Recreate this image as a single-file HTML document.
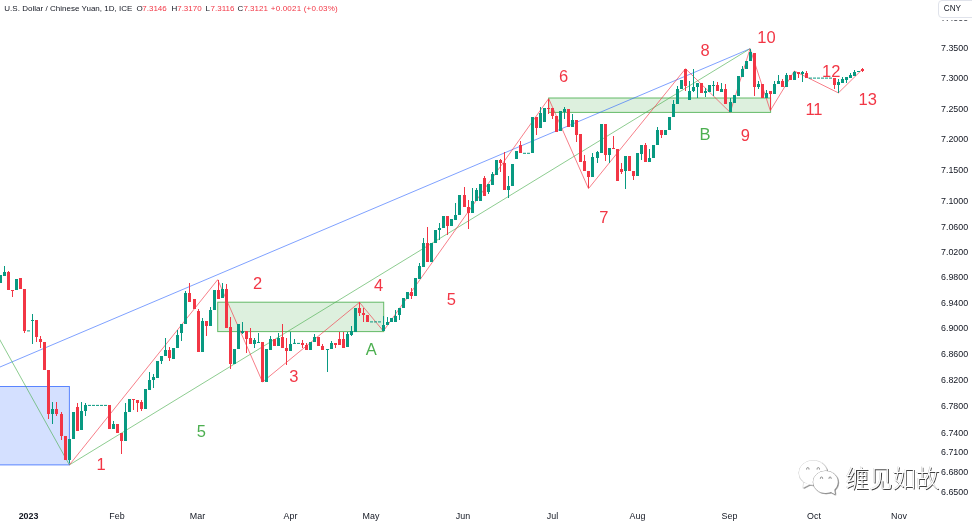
<!DOCTYPE html>
<html><head><meta charset="utf-8"><title>USDCNY</title>
<style>
html,body{margin:0;padding:0;background:#fff;}
body{width:972px;height:522px;overflow:hidden;position:relative;font-family:"Liberation Sans","Noto Sans CJK SC",sans-serif;}
#chart{position:absolute;left:0;top:0;width:972px;height:522px;display:block;}
#legend{position:absolute;left:0;top:3.4px;font-size:8px;line-height:11px;color:#131722;white-space:nowrap;}
#legend span{position:absolute;top:0;}
#legend .v{color:#f23645;}
#cnyw{position:absolute;left:936px;top:0;width:36px;height:20px;background:#fff;}
#cny{position:absolute;left:938px;top:-0.5px;width:40px;height:18px;border:1px solid #e0e3eb;border-radius:4px;background:#fff;box-sizing:border-box;font-size:8.2px;line-height:16.6px;color:#131722;padding-left:4.8px;}
#wm{position:absolute;left:845.6px;top:461.3px;font-size:23.45px;line-height:32px;color:#fff;text-shadow:0.9px 0.9px 0.5px rgba(30,30,30,0.85),-0.3px -0.3px 0.4px rgba(120,120,120,0.5);font-family:"Noto Sans CJK SC","Liberation Sans",sans-serif;white-space:nowrap;font-weight:300;}
</style></head><body>
<svg id="chart" width="972" height="522" viewBox="0 0 972 522" font-family="Liberation Sans, sans-serif">
<!-- boxes -->
<rect x="-5" y="386.5" width="74.4" height="78.4" fill="#2962ff" fill-opacity="0.2" stroke="#2962ff" stroke-opacity="0.75" stroke-width="1"/>
<rect x="217.7" y="302.2" width="166" height="29.4" fill="#4caf50" fill-opacity="0.19" stroke="#4caf50" stroke-opacity="0.85" stroke-width="1"/>
<rect x="548.7" y="98" width="221.9" height="14.4" fill="#4caf50" fill-opacity="0.19" stroke="#4caf50" stroke-opacity="0.85" stroke-width="1"/>
<!-- trend lines -->
<g fill="none" stroke-width="0.8">
<line x1="0" y1="367" x2="750.1" y2="48.7" stroke="#2962ff" stroke-opacity="0.75"/>
<line x1="69.4" y1="464.9" x2="750.1" y2="48.7" stroke="#4caf50" stroke-opacity="0.8"/>
<line x1="-2" y1="336.5" x2="69.4" y2="464.9" stroke="#4caf50" stroke-opacity="0.8"/>
<polyline points="69.4,464.9 217.7,279.7 262.5,382 359.5,302.4 383.4,331.1 548.7,98.6 588.5,188.6 685.5,68.7 730.2,112.4 750.1,48.7 770.3,110.6 794.3,71 838.4,92.9 862.5,69.2" stroke="#f23645" stroke-opacity="0.8"/>
</g>
<!-- candles -->
<g shape-rendering="crispEdges">
<rect x="-1" y="275" width="3" height="8" fill="#089981"/>
<rect x="4" y="266" width="1" height="10" fill="#089981"/>
<rect x="3" y="272" width="3" height="4" fill="#089981"/>
<rect x="8" y="271" width="1" height="19" fill="#f23645"/>
<rect x="7" y="272" width="3" height="18" fill="#f23645"/>
<rect x="12" y="290" width="1" height="7" fill="#f23645"/>
<rect x="11" y="290" width="3" height="1" fill="#f23645"/>
<rect x="15" y="279" width="3" height="11" fill="#089981"/>
<rect x="19" y="278" width="3" height="11" fill="#f23645"/>
<rect x="24" y="289" width="1" height="44" fill="#f23645"/>
<rect x="23" y="289" width="3" height="42" fill="#f23645"/>
<rect x="32" y="314" width="1" height="30" fill="#089981"/>
<rect x="31" y="320" width="3" height="1" fill="#089981"/>
<rect x="36" y="320" width="1" height="22" fill="#f23645"/>
<rect x="35" y="320" width="3" height="17" fill="#f23645"/>
<rect x="40" y="336" width="1" height="12" fill="#f23645"/>
<rect x="39" y="339" width="3" height="3" fill="#f23645"/>
<rect x="43" y="342" width="3" height="28" fill="#f23645"/>
<rect x="48" y="370" width="1" height="49" fill="#f23645"/>
<rect x="47" y="370" width="3" height="44" fill="#f23645"/>
<rect x="52" y="402" width="1" height="22" fill="#089981"/>
<rect x="51" y="409" width="3" height="5" fill="#089981"/>
<rect x="56" y="402" width="1" height="14" fill="#f23645"/>
<rect x="55" y="409" width="3" height="5" fill="#f23645"/>
<rect x="61" y="412" width="1" height="28" fill="#f23645"/>
<rect x="60" y="414" width="3" height="22" fill="#f23645"/>
<rect x="64" y="436" width="3" height="24" fill="#f23645"/>
<rect x="69" y="439" width="1" height="24" fill="#089981"/>
<rect x="68" y="439" width="3" height="21" fill="#089981"/>
<rect x="72" y="412" width="3" height="27" fill="#089981"/>
<rect x="77" y="403" width="1" height="28" fill="#f23645"/>
<rect x="76" y="407" width="3" height="24" fill="#f23645"/>
<rect x="81" y="402" width="1" height="28" fill="#089981"/>
<rect x="80" y="411" width="3" height="19" fill="#089981"/>
<rect x="85" y="403" width="1" height="13" fill="#089981"/>
<rect x="84" y="405" width="3" height="6" fill="#089981"/>
<rect x="108" y="405" width="3" height="24" fill="#f23645"/>
<rect x="113" y="421" width="1" height="8" fill="#089981"/>
<rect x="112" y="424" width="3" height="5" fill="#089981"/>
<rect x="116" y="424" width="3" height="9" fill="#f23645"/>
<rect x="121" y="433" width="1" height="21" fill="#f23645"/>
<rect x="120" y="433" width="3" height="8" fill="#f23645"/>
<rect x="125" y="403" width="1" height="38" fill="#089981"/>
<rect x="124" y="412" width="3" height="29" fill="#089981"/>
<rect x="128" y="399" width="3" height="13" fill="#089981"/>
<rect x="133" y="399" width="1" height="11" fill="#f23645"/>
<rect x="132" y="399" width="3" height="1" fill="#f23645"/>
<rect x="137" y="400" width="1" height="12" fill="#f23645"/>
<rect x="136" y="400" width="3" height="3" fill="#f23645"/>
<rect x="141" y="400" width="1" height="11" fill="#f23645"/>
<rect x="140" y="402" width="3" height="7" fill="#f23645"/>
<rect x="144" y="389" width="3" height="20" fill="#089981"/>
<rect x="149" y="372" width="1" height="18" fill="#089981"/>
<rect x="148" y="380" width="3" height="10" fill="#089981"/>
<rect x="153" y="374" width="1" height="14" fill="#089981"/>
<rect x="152" y="377" width="3" height="3" fill="#089981"/>
<rect x="156" y="361" width="3" height="17" fill="#089981"/>
<rect x="161" y="356" width="1" height="8" fill="#089981"/>
<rect x="160" y="356" width="3" height="5" fill="#089981"/>
<rect x="165" y="338" width="1" height="18" fill="#089981"/>
<rect x="164" y="350" width="3" height="6" fill="#089981"/>
<rect x="169" y="347" width="1" height="14" fill="#f23645"/>
<rect x="168" y="350" width="3" height="8" fill="#f23645"/>
<rect x="172" y="348" width="3" height="11" fill="#089981"/>
<rect x="177" y="330" width="1" height="18" fill="#089981"/>
<rect x="176" y="335" width="3" height="13" fill="#089981"/>
<rect x="181" y="324" width="1" height="17" fill="#089981"/>
<rect x="180" y="324" width="3" height="9" fill="#089981"/>
<rect x="185" y="291" width="1" height="33" fill="#089981"/>
<rect x="184" y="293" width="3" height="31" fill="#089981"/>
<rect x="189" y="283" width="1" height="19" fill="#f23645"/>
<rect x="188" y="293" width="3" height="9" fill="#f23645"/>
<rect x="193" y="299" width="3" height="10" fill="#f23645"/>
<rect x="198" y="309" width="1" height="43" fill="#f23645"/>
<rect x="197" y="311" width="3" height="41" fill="#f23645"/>
<rect x="202" y="318" width="1" height="34" fill="#089981"/>
<rect x="201" y="321" width="3" height="31" fill="#089981"/>
<rect x="206" y="321" width="1" height="15" fill="#f23645"/>
<rect x="205" y="321" width="3" height="5" fill="#f23645"/>
<rect x="210" y="307" width="1" height="19" fill="#089981"/>
<rect x="209" y="310" width="3" height="16" fill="#089981"/>
<rect x="213" y="290" width="3" height="20" fill="#089981"/>
<rect x="218" y="280" width="1" height="19" fill="#f23645"/>
<rect x="217" y="290" width="3" height="9" fill="#f23645"/>
<rect x="222" y="283" width="1" height="15" fill="#089981"/>
<rect x="221" y="289" width="3" height="9" fill="#089981"/>
<rect x="226" y="284" width="1" height="44" fill="#f23645"/>
<rect x="225" y="289" width="3" height="39" fill="#f23645"/>
<rect x="230" y="317" width="1" height="52" fill="#f23645"/>
<rect x="229" y="327" width="3" height="37" fill="#f23645"/>
<rect x="233" y="349" width="3" height="15" fill="#089981"/>
<rect x="237" y="324" width="3" height="25" fill="#089981"/>
<rect x="242" y="322" width="1" height="12" fill="#089981"/>
<rect x="241" y="331" width="3" height="2" fill="#089981"/>
<rect x="246" y="331" width="1" height="22" fill="#f23645"/>
<rect x="245" y="331" width="3" height="8" fill="#f23645"/>
<rect x="250" y="328" width="1" height="16" fill="#f23645"/>
<rect x="249" y="338" width="3" height="6" fill="#f23645"/>
<rect x="254" y="338" width="1" height="10" fill="#089981"/>
<rect x="253" y="340" width="3" height="4" fill="#089981"/>
<rect x="258" y="333" width="1" height="10" fill="#089981"/>
<rect x="257" y="342" width="3" height="1" fill="#089981"/>
<rect x="261" y="342" width="3" height="40" fill="#f23645"/>
<rect x="265" y="349" width="3" height="33" fill="#089981"/>
<rect x="270" y="336" width="1" height="14" fill="#089981"/>
<rect x="269" y="339" width="3" height="11" fill="#089981"/>
<rect x="273" y="339" width="3" height="7" fill="#f23645"/>
<rect x="278" y="333" width="1" height="13" fill="#089981"/>
<rect x="277" y="338" width="3" height="8" fill="#089981"/>
<rect x="282" y="324" width="1" height="24" fill="#f23645"/>
<rect x="281" y="337" width="3" height="11" fill="#f23645"/>
<rect x="286" y="338" width="1" height="27" fill="#f23645"/>
<rect x="285" y="348" width="3" height="3" fill="#f23645"/>
<rect x="290" y="332" width="1" height="19" fill="#089981"/>
<rect x="289" y="344" width="3" height="7" fill="#089981"/>
<rect x="294" y="339" width="1" height="5" fill="#089981"/>
<rect x="302" y="340" width="1" height="8" fill="#f23645"/>
<rect x="301" y="343" width="3" height="2" fill="#f23645"/>
<rect x="306" y="343" width="1" height="7" fill="#f23645"/>
<rect x="305" y="345" width="3" height="5" fill="#f23645"/>
<rect x="309" y="342" width="3" height="8" fill="#089981"/>
<rect x="314" y="334" width="1" height="8" fill="#089981"/>
<rect x="313" y="337" width="3" height="5" fill="#089981"/>
<rect x="317" y="337" width="3" height="9" fill="#f23645"/>
<rect x="322" y="344" width="1" height="6" fill="#f23645"/>
<rect x="321" y="346" width="3" height="4" fill="#f23645"/>
<rect x="327" y="349" width="1" height="23" fill="#089981"/>
<rect x="326" y="349" width="3" height="1" fill="#089981"/>
<rect x="331" y="341" width="1" height="8" fill="#089981"/>
<rect x="330" y="343" width="3" height="6" fill="#089981"/>
<rect x="335" y="343" width="1" height="5" fill="#f23645"/>
<rect x="334" y="343" width="3" height="2" fill="#f23645"/>
<rect x="339" y="332" width="1" height="13" fill="#f23645"/>
<rect x="338" y="339" width="3" height="6" fill="#f23645"/>
<rect x="343" y="332" width="1" height="16" fill="#f23645"/>
<rect x="342" y="339" width="3" height="9" fill="#f23645"/>
<rect x="347" y="332" width="1" height="15" fill="#089981"/>
<rect x="346" y="334" width="3" height="13" fill="#089981"/>
<rect x="351" y="326" width="1" height="10" fill="#089981"/>
<rect x="350" y="331" width="3" height="4" fill="#089981"/>
<rect x="354" y="308" width="3" height="24" fill="#089981"/>
<rect x="359" y="302" width="1" height="14" fill="#f23645"/>
<rect x="358" y="308" width="3" height="5" fill="#f23645"/>
<rect x="363" y="308" width="1" height="14" fill="#f23645"/>
<rect x="362" y="313" width="3" height="2" fill="#f23645"/>
<rect x="366" y="315" width="3" height="7" fill="#f23645"/>
<rect x="383" y="316" width="1" height="15" fill="#089981"/>
<rect x="382" y="325" width="3" height="6" fill="#089981"/>
<rect x="387" y="317" width="1" height="8" fill="#089981"/>
<rect x="386" y="322" width="3" height="3" fill="#089981"/>
<rect x="390" y="318" width="3" height="4" fill="#089981"/>
<rect x="395" y="310" width="1" height="12" fill="#089981"/>
<rect x="394" y="316" width="3" height="6" fill="#089981"/>
<rect x="399" y="308" width="1" height="12" fill="#089981"/>
<rect x="398" y="308" width="3" height="7" fill="#089981"/>
<rect x="402" y="298" width="3" height="10" fill="#089981"/>
<rect x="406" y="292" width="3" height="7" fill="#089981"/>
<rect x="411" y="288" width="1" height="11" fill="#f23645"/>
<rect x="410" y="292" width="3" height="4" fill="#f23645"/>
<rect x="414" y="278" width="3" height="18" fill="#089981"/>
<rect x="419" y="263" width="1" height="16" fill="#089981"/>
<rect x="418" y="266" width="3" height="13" fill="#089981"/>
<rect x="423" y="238" width="1" height="29" fill="#089981"/>
<rect x="422" y="243" width="3" height="24" fill="#089981"/>
<rect x="427" y="227" width="1" height="35" fill="#f23645"/>
<rect x="426" y="243" width="3" height="19" fill="#f23645"/>
<rect x="430" y="243" width="3" height="19" fill="#089981"/>
<rect x="434" y="230" width="3" height="13" fill="#089981"/>
<rect x="439" y="223" width="1" height="17" fill="#089981"/>
<rect x="438" y="228" width="3" height="2" fill="#089981"/>
<rect x="442" y="216" width="3" height="12" fill="#089981"/>
<rect x="447" y="216" width="1" height="19" fill="#f23645"/>
<rect x="446" y="216" width="3" height="10" fill="#f23645"/>
<rect x="450" y="219" width="3" height="7" fill="#089981"/>
<rect x="455" y="203" width="1" height="17" fill="#089981"/>
<rect x="454" y="215" width="3" height="5" fill="#089981"/>
<rect x="458" y="195" width="3" height="20" fill="#089981"/>
<rect x="464" y="187" width="1" height="20" fill="#f23645"/>
<rect x="463" y="195" width="3" height="12" fill="#f23645"/>
<rect x="468" y="200" width="1" height="29" fill="#f23645"/>
<rect x="467" y="207" width="3" height="6" fill="#f23645"/>
<rect x="472" y="188" width="1" height="25" fill="#089981"/>
<rect x="471" y="201" width="3" height="12" fill="#089981"/>
<rect x="476" y="188" width="1" height="13" fill="#089981"/>
<rect x="475" y="190" width="3" height="11" fill="#089981"/>
<rect x="479" y="184" width="3" height="17" fill="#089981"/>
<rect x="484" y="176" width="1" height="20" fill="#f23645"/>
<rect x="483" y="178" width="3" height="18" fill="#f23645"/>
<rect x="488" y="184" width="1" height="10" fill="#089981"/>
<rect x="487" y="184" width="3" height="8" fill="#089981"/>
<rect x="492" y="172" width="1" height="13" fill="#089981"/>
<rect x="491" y="174" width="3" height="11" fill="#089981"/>
<rect x="495" y="160" width="3" height="15" fill="#089981"/>
<rect x="500" y="159" width="1" height="13" fill="#f23645"/>
<rect x="499" y="160" width="3" height="3" fill="#f23645"/>
<rect x="504" y="152" width="1" height="38" fill="#f23645"/>
<rect x="503" y="163" width="3" height="27" fill="#f23645"/>
<rect x="508" y="176" width="1" height="22" fill="#089981"/>
<rect x="507" y="186" width="3" height="4" fill="#089981"/>
<rect x="511" y="164" width="3" height="22" fill="#089981"/>
<rect x="515" y="151" width="3" height="8" fill="#089981"/>
<rect x="520" y="141" width="1" height="12" fill="#f23645"/>
<rect x="519" y="145" width="3" height="8" fill="#f23645"/>
<rect x="531" y="117" width="3" height="36" fill="#089981"/>
<rect x="536" y="117" width="1" height="18" fill="#f23645"/>
<rect x="535" y="117" width="3" height="11" fill="#f23645"/>
<rect x="540" y="107" width="1" height="21" fill="#089981"/>
<rect x="539" y="113" width="3" height="15" fill="#089981"/>
<rect x="543" y="108" width="3" height="14" fill="#089981"/>
<rect x="548" y="99" width="1" height="15" fill="#f23645"/>
<rect x="552" y="108" width="1" height="11" fill="#f23645"/>
<rect x="551" y="108" width="3" height="8" fill="#f23645"/>
<rect x="555" y="116" width="3" height="16" fill="#f23645"/>
<rect x="559" y="111" width="3" height="20" fill="#089981"/>
<rect x="564" y="107" width="1" height="12" fill="#089981"/>
<rect x="563" y="109" width="3" height="3" fill="#089981"/>
<rect x="567" y="109" width="3" height="18" fill="#f23645"/>
<rect x="572" y="114" width="1" height="13" fill="#089981"/>
<rect x="571" y="120" width="3" height="7" fill="#089981"/>
<rect x="576" y="120" width="1" height="22" fill="#f23645"/>
<rect x="575" y="120" width="3" height="15" fill="#f23645"/>
<rect x="579" y="134" width="3" height="28" fill="#f23645"/>
<rect x="584" y="155" width="1" height="16" fill="#f23645"/>
<rect x="583" y="161" width="3" height="10" fill="#f23645"/>
<rect x="588" y="171" width="1" height="17" fill="#f23645"/>
<rect x="587" y="171" width="3" height="6" fill="#f23645"/>
<rect x="592" y="153" width="1" height="24" fill="#089981"/>
<rect x="591" y="157" width="3" height="20" fill="#089981"/>
<rect x="597" y="151" width="1" height="12" fill="#089981"/>
<rect x="596" y="152" width="3" height="6" fill="#089981"/>
<rect x="600" y="124" width="3" height="29" fill="#089981"/>
<rect x="605" y="124" width="1" height="37" fill="#f23645"/>
<rect x="604" y="124" width="3" height="31" fill="#f23645"/>
<rect x="609" y="148" width="1" height="15" fill="#089981"/>
<rect x="608" y="148" width="3" height="7" fill="#089981"/>
<rect x="613" y="136" width="1" height="13" fill="#f23645"/>
<rect x="612" y="148" width="3" height="1" fill="#f23645"/>
<rect x="616" y="149" width="3" height="32" fill="#f23645"/>
<rect x="621" y="163" width="1" height="11" fill="#f23645"/>
<rect x="620" y="169" width="3" height="3" fill="#f23645"/>
<rect x="625" y="156" width="1" height="33" fill="#089981"/>
<rect x="624" y="156" width="3" height="15" fill="#089981"/>
<rect x="628" y="156" width="3" height="15" fill="#f23645"/>
<rect x="633" y="171" width="1" height="9" fill="#f23645"/>
<rect x="632" y="171" width="3" height="5" fill="#f23645"/>
<rect x="636" y="153" width="3" height="23" fill="#089981"/>
<rect x="641" y="145" width="1" height="15" fill="#089981"/>
<rect x="640" y="145" width="3" height="9" fill="#089981"/>
<rect x="645" y="143" width="1" height="19" fill="#f23645"/>
<rect x="644" y="145" width="3" height="17" fill="#f23645"/>
<rect x="649" y="149" width="1" height="13" fill="#089981"/>
<rect x="648" y="158" width="3" height="4" fill="#089981"/>
<rect x="652" y="145" width="3" height="13" fill="#089981"/>
<rect x="657" y="127" width="1" height="18" fill="#089981"/>
<rect x="656" y="130" width="3" height="15" fill="#089981"/>
<rect x="661" y="130" width="1" height="8" fill="#f23645"/>
<rect x="660" y="130" width="3" height="5" fill="#f23645"/>
<rect x="664" y="130" width="3" height="5" fill="#089981"/>
<rect x="668" y="117" width="3" height="13" fill="#089981"/>
<rect x="673" y="100" width="1" height="17" fill="#089981"/>
<rect x="672" y="104" width="3" height="13" fill="#089981"/>
<rect x="677" y="86" width="1" height="18" fill="#089981"/>
<rect x="676" y="89" width="3" height="15" fill="#089981"/>
<rect x="680" y="80" width="3" height="9" fill="#089981"/>
<rect x="685" y="69" width="1" height="22" fill="#f23645"/>
<rect x="684" y="69" width="3" height="17" fill="#f23645"/>
<rect x="689" y="81" width="1" height="19" fill="#089981"/>
<rect x="688" y="91" width="3" height="9" fill="#089981"/>
<rect x="693" y="69" width="1" height="23" fill="#089981"/>
<rect x="692" y="87" width="3" height="4" fill="#089981"/>
<rect x="697" y="83" width="1" height="15" fill="#089981"/>
<rect x="696" y="83" width="3" height="4" fill="#089981"/>
<rect x="700" y="83" width="3" height="10" fill="#f23645"/>
<rect x="705" y="88" width="1" height="9" fill="#089981"/>
<rect x="704" y="91" width="3" height="2" fill="#089981"/>
<rect x="708" y="85" width="3" height="7" fill="#089981"/>
<rect x="713" y="81" width="1" height="15" fill="#089981"/>
<rect x="712" y="85" width="3" height="1" fill="#089981"/>
<rect x="717" y="82" width="1" height="9" fill="#f23645"/>
<rect x="716" y="85" width="3" height="6" fill="#f23645"/>
<rect x="721" y="83" width="1" height="9" fill="#089981"/>
<rect x="720" y="89" width="3" height="3" fill="#089981"/>
<rect x="725" y="84" width="1" height="20" fill="#f23645"/>
<rect x="724" y="89" width="3" height="15" fill="#f23645"/>
<rect x="730" y="98" width="1" height="14" fill="#089981"/>
<rect x="729" y="102" width="3" height="10" fill="#089981"/>
<rect x="733" y="95" width="3" height="8" fill="#089981"/>
<rect x="737" y="76" width="3" height="20" fill="#089981"/>
<rect x="742" y="66" width="1" height="11" fill="#089981"/>
<rect x="741" y="69" width="3" height="8" fill="#089981"/>
<rect x="745" y="61" width="3" height="8" fill="#089981"/>
<rect x="750" y="49" width="1" height="12" fill="#089981"/>
<rect x="749" y="52" width="3" height="9" fill="#089981"/>
<rect x="754" y="53" width="1" height="43" fill="#f23645"/>
<rect x="753" y="53" width="3" height="34" fill="#f23645"/>
<rect x="758" y="81" width="1" height="8" fill="#089981"/>
<rect x="757" y="84" width="3" height="3" fill="#089981"/>
<rect x="761" y="84" width="3" height="14" fill="#f23645"/>
<rect x="766" y="90" width="1" height="8" fill="#089981"/>
<rect x="765" y="93" width="3" height="5" fill="#089981"/>
<rect x="770" y="91" width="1" height="19" fill="#f23645"/>
<rect x="769" y="91" width="3" height="3" fill="#f23645"/>
<rect x="774" y="81" width="1" height="13" fill="#089981"/>
<rect x="773" y="84" width="3" height="10" fill="#089981"/>
<rect x="778" y="75" width="1" height="9" fill="#089981"/>
<rect x="777" y="81" width="3" height="3" fill="#089981"/>
<rect x="782" y="79" width="1" height="8" fill="#f23645"/>
<rect x="781" y="81" width="3" height="6" fill="#f23645"/>
<rect x="786" y="73" width="1" height="14" fill="#089981"/>
<rect x="785" y="75" width="3" height="12" fill="#089981"/>
<rect x="789" y="75" width="3" height="5" fill="#f23645"/>
<rect x="794" y="71" width="1" height="9" fill="#089981"/>
<rect x="793" y="72" width="3" height="8" fill="#089981"/>
<rect x="798" y="72" width="1" height="6" fill="#f23645"/>
<rect x="797" y="72" width="3" height="2" fill="#f23645"/>
<rect x="802" y="71" width="1" height="11" fill="#089981"/>
<rect x="801" y="72" width="3" height="2" fill="#089981"/>
<rect x="806" y="71" width="1" height="7" fill="#f23645"/>
<rect x="805" y="73" width="3" height="5" fill="#f23645"/>
<rect x="834" y="78" width="1" height="11" fill="#f23645"/>
<rect x="833" y="78" width="3" height="7" fill="#f23645"/>
<rect x="838" y="79" width="1" height="14" fill="#089981"/>
<rect x="837" y="82" width="3" height="3" fill="#089981"/>
<rect x="842" y="77" width="1" height="6" fill="#089981"/>
<rect x="841" y="79" width="3" height="4" fill="#089981"/>
<rect x="846" y="77" width="1" height="6" fill="#089981"/>
<rect x="845" y="77" width="3" height="3" fill="#089981"/>
<rect x="850" y="73" width="1" height="5" fill="#089981"/>
<rect x="849" y="75" width="3" height="3" fill="#089981"/>
<rect x="854" y="70" width="1" height="6" fill="#089981"/>
<rect x="853" y="72" width="3" height="4" fill="#089981"/>
<rect x="857" y="71" width="3" height="1" fill="#089981"/>
<rect x="862" y="68" width="1" height="4" fill="#f23645"/>
<rect x="861" y="69" width="3" height="2" fill="#f23645"/>
</g>
<g>
<rect x="27" y="330.4" width="3" height="1" fill="#089981"/>
<rect x="88" y="404.9" width="3" height="1" fill="#089981"/>
<rect x="92" y="404.9" width="3" height="1" fill="#089981"/>
<rect x="96" y="404.9" width="3" height="1" fill="#089981"/>
<rect x="100" y="404.9" width="3" height="1" fill="#089981"/>
<rect x="104" y="404.9" width="3" height="1" fill="#089981"/>
<rect x="293" y="342.9" width="3" height="1" fill="#089981"/>
<rect x="297" y="342.9" width="3" height="1" fill="#089981"/>
<rect x="370" y="321.4" width="3" height="1" fill="#089981"/>
<rect x="374" y="321.4" width="3" height="1" fill="#089981"/>
<rect x="378" y="321.4" width="3" height="1" fill="#089981"/>
<rect x="523" y="152.8" width="3" height="1" fill="#089981"/>
<rect x="527" y="152.8" width="3" height="1" fill="#089981"/>
<rect x="547" y="108.0" width="3" height="1" fill="#f23645"/>
<rect x="809" y="77.6" width="3" height="1" fill="#089981"/>
<rect x="813" y="77.6" width="3" height="1" fill="#089981"/>
<rect x="817" y="77.6" width="3" height="1" fill="#089981"/>
<rect x="821" y="77.6" width="3" height="1" fill="#089981"/>
<rect x="825" y="77.6" width="3" height="1" fill="#089981"/>
<rect x="829" y="77.6" width="3" height="1" fill="#089981"/>
</g>
<!-- wave labels -->
<g font-size="16.5">
<text x="101.0" y="469.9" fill="#f23645" text-anchor="middle">1</text>
<text x="201.4" y="437.4" fill="#4caf50" text-anchor="middle">5</text>
<text x="257.5" y="289.2" fill="#f23645" text-anchor="middle">2</text>
<text x="293.9" y="381.6" fill="#f23645" text-anchor="middle">3</text>
<text x="378.5" y="291.0" fill="#f23645" text-anchor="middle">4</text>
<text x="371.2" y="355.2" fill="#4caf50" text-anchor="middle">A</text>
<text x="451.3" y="305.4" fill="#f23645" text-anchor="middle">5</text>
<text x="563.7" y="81.7" fill="#f23645" text-anchor="middle">6</text>
<text x="603.8" y="223.4" fill="#f23645" text-anchor="middle">7</text>
<text x="705.2" y="56.3" fill="#f23645" text-anchor="middle">8</text>
<text x="705" y="140.0" fill="#4caf50" text-anchor="middle">B</text>
<text x="745.3" y="141.1" fill="#f23645" text-anchor="middle">9</text>
<text x="766.5" y="42.9" fill="#f23645" text-anchor="middle">10</text>
<text x="814" y="114.7" fill="#f23645" text-anchor="middle">11</text>
<text x="831.2" y="77.3" fill="#f23645" text-anchor="middle">12</text>
<text x="867.8" y="104.6" fill="#f23645" text-anchor="middle">13</text>
</g>
<!-- price axis -->
<g font-size="8.9" fill="#131722">
<text x="941" y="20.6">7.4000</text>
<text x="941" y="50.7">7.3500</text>
<text x="941" y="81.0">7.3000</text>
<text x="941" y="111.5">7.2500</text>
<text x="941" y="142.3">7.2000</text>
<text x="941" y="173.2">7.1500</text>
<text x="941" y="204.4">7.1000</text>
<text x="941" y="229.5">7.0600</text>
<text x="941" y="254.7">7.0200</text>
<text x="941" y="280.1">6.9800</text>
<text x="941" y="305.6">6.9400</text>
<text x="941" y="331.3">6.9000</text>
<text x="941" y="357.1">6.8600</text>
<text x="941" y="383.1">6.8200</text>
<text x="941" y="409.2">6.7800</text>
<text x="941" y="435.5">6.7400</text>
<text x="941" y="455.3">6.7100</text>
<text x="941" y="475.2">6.6800</text>
<text x="941" y="495.2">6.6500</text>
</g>
<!-- time axis -->
<g font-size="8.9" fill="#131722">
<text x="28.5" y="519.2" text-anchor="middle" font-weight="bold">2023</text>
<text x="117" y="519.2" text-anchor="middle">Feb</text>
<text x="197.5" y="519.2" text-anchor="middle">Mar</text>
<text x="290.5" y="519.2" text-anchor="middle">Apr</text>
<text x="371" y="519.2" text-anchor="middle">May</text>
<text x="463" y="519.2" text-anchor="middle">Jun</text>
<text x="552.5" y="519.2" text-anchor="middle">Jul</text>
<text x="637.5" y="519.2" text-anchor="middle">Aug</text>
<text x="729.5" y="519.2" text-anchor="middle">Sep</text>
<text x="814" y="519.2" text-anchor="middle">Oct</text>
<text x="899" y="519.2" text-anchor="middle">Nov</text>
</g>
<!-- wechat watermark icon -->
<defs><filter id="ds" x="-20%" y="-20%" width="150%" height="150%"><feDropShadow dx="0.7" dy="0.7" stdDeviation="0.25" flood-color="#222" flood-opacity="0.62"/></filter></defs>
<g filter="url(#ds)">
<g fill="#fff" stroke="#c4c4c4" stroke-width="0.9"><ellipse cx="813" cy="472.7" rx="14" ry="12.1"/><path d="M803.600 482.500L803.200 487.600L809.200 484.400z"/></g>
<g fill="#fff"><ellipse cx="813" cy="472.7" rx="14" ry="12.1"/><path d="M803.600 482.500L803.200 487.600L809.200 484.400z"/></g>
</g>
<g filter="url(#ds)">
<g fill="#fff" stroke="#6a6a6a" stroke-width="0.75"><ellipse cx="825.5" cy="482" rx="12.3" ry="10.9"/><path d="M830.500 491.800L834.900 494.300L834.300 489.000z"/></g>
<g fill="#fff"><ellipse cx="825.5" cy="482" rx="12.3" ry="10.9"/><path d="M830.500 491.800L834.900 494.300L834.300 489.000z"/></g>
</g>
<g fill="none" stroke="#666" stroke-width="0.7">
<path d="M806.600 469.600v-0.800a1.200 1.200 0 0 1 2.400 0v0.800"/><path d="M817.100 469.600v-0.800a1.200 1.200 0 0 1 2.400 0v0.800"/>
<path d="M820.400 478.900v-0.800a1.100 1.100 0 0 1 2.200 0v0.800"/><path d="M829.000 478.900v-0.800a1.100 1.100 0 0 1 2.200 0v0.800"/>
</g>
</svg>
<div id="legend"><span style="left:4.3px;letter-spacing:0.02px">U.S. Dollar / Chinese Yuan, 1D, ICE</span><span style="left:136.6px">O</span><span class="v" style="left:142.3px">7.3146</span><span style="left:171.4px">H</span><span class="v" style="left:177.2px">7.3170</span><span style="left:205.6px">L</span><span class="v" style="left:210.6px">7.3116</span><span style="left:237.4px">C</span><span class="v" style="left:243.4px">7.3121</span><span class="v" style="left:270.8px;letter-spacing:0.19px">+0.0021 (+0.03%)</span></div>
<div id="cnyw"></div><div id="cny">CNY</div>
<div id="wm">缠见如故</div>
</body></html>
